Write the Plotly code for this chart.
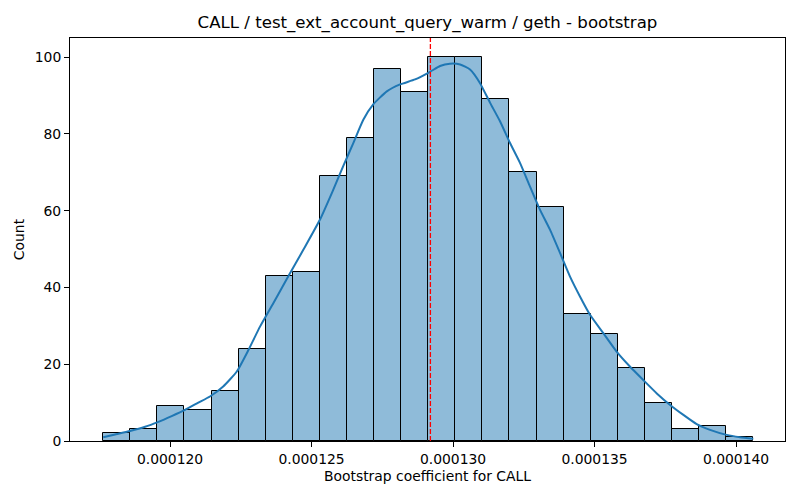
import plotly.graph_objects as go

# histogram counts (24 bins)
counts = [2, 3, 9, 8, 13, 24, 43, 44, 69, 79, 97, 91,
          100, 100, 89, 70, 61, 33, 28, 19, 10, 3, 4, 1]
bin_start = 117.64e-6
bin_width = 0.957e-6

# kde curve (x in units of 1e-6)
kde_x = [117.64, 118.06, 118.59, 119.12, 119.59, 120.06, 120.53, 121.00, 121.41,
         121.88, 122.36, 122.77, 123.18, 123.65, 124.18, 124.71, 125.30, 125.77,
         126.12, 126.48, 126.83, 127.18, 127.66, 128.13, 128.66, 129.19, 129.54,
         129.89, 130.25, 130.60, 130.95, 131.31, 131.66, 132.01, 132.37, 132.72,
         133.07, 133.43, 133.78, 134.13, 134.49, 134.84, 135.31, 135.78, 136.25,
         136.72, 137.20, 137.67, 138.14, 138.61, 139.08, 139.67, 140.14, 140.61]
kde_y = [1.0, 1.7, 2.6, 3.7, 5.0, 6.5, 8.1, 10.0, 11.6,
         14.2, 18.1, 23.7, 29.8, 35.9, 42.9, 49.8, 57.7, 65.5,
         71.6, 77.7, 83.7, 87.7, 91.1, 92.9, 94.2, 96.2, 97.7,
         98.3, 98.1, 96.8, 93.3, 88.1, 83.3, 77.7, 72.4, 66.3,
         60.3, 55.0, 49.0, 42.9, 37.6, 32.9, 28.1, 23.3, 19.4,
         15.9, 12.4, 9.4, 6.8, 4.4, 2.9, 1.6, 1.0, 0.6]
kde_x = [v * 1e-6 for v in kde_x]

point_estimate = 129.2e-6

x_ticks = [120e-6, 125e-6, 130e-6, 135e-6, 140e-6]
x_ticklabels = ["0.000120", "0.000125", "0.000130", "0.000135", "0.000140"]
y_ticks = [0, 20, 40, 60, 80, 100]

centers = [bin_start + bin_width * (i + 0.5) for i in range(len(counts))]

fig = go.Figure()

fig.add_trace(go.Bar(
    x=centers, y=counts, width=bin_width,
    marker=dict(color="#8fbbd9", line=dict(color="black", width=1)),
    hoverinfo="x+y",
))

fig.add_trace(go.Scatter(
    x=kde_x, y=kde_y, mode="lines",
    line=dict(color="#1f77b4", width=2, shape="spline", smoothing=0.5),
))

fig.add_shape(
    type="line", xref="x", yref="paper",
    x0=point_estimate, x1=point_estimate, y0=0, y1=1,
    line=dict(color="red", width=1.3, dash="5px,2px"),
)

axis_style = dict(
    showline=True, linecolor="black", linewidth=1, mirror=True,
    ticks="outside", ticklen=5, tickcolor="black",
    showgrid=False, zeroline=False,
    tickfont=dict(size=13.9, color="black"),
)

fig.update_layout(
    width=800, height=500,
    margin=dict(l=70, r=15, t=38, b=59),
    plot_bgcolor="white", paper_bgcolor="white",
    showlegend=False,
    font=dict(family="DejaVu Sans", color="black"),
    title=dict(text="CALL / test_ext_account_query_warm / geth - bootstrap",
               x=0.5, xref="paper", y=0.955, yanchor="middle",
               font=dict(size=16.6, color="black")),
    bargap=0,
)

fig.update_xaxes(range=[116.466e-6, 141.73e-6], tickvals=x_ticks,
                 ticktext=x_ticklabels,
                 title=dict(text="Bootstrap coefficient for CALL", font=dict(size=13.9), standoff=5),
                 **axis_style)
fig.update_yaxes(range=[0, 105], tickvals=y_ticks,
                 title=dict(text="Count", font=dict(size=13.9), standoff=6),
                 **axis_style)

# the page has a default 8px body margin; drop it so the figure sits at 0,0
fig.write_html("out.html", config={"displayModeBar": False},
               post_script="document.body.style.margin='0';")
